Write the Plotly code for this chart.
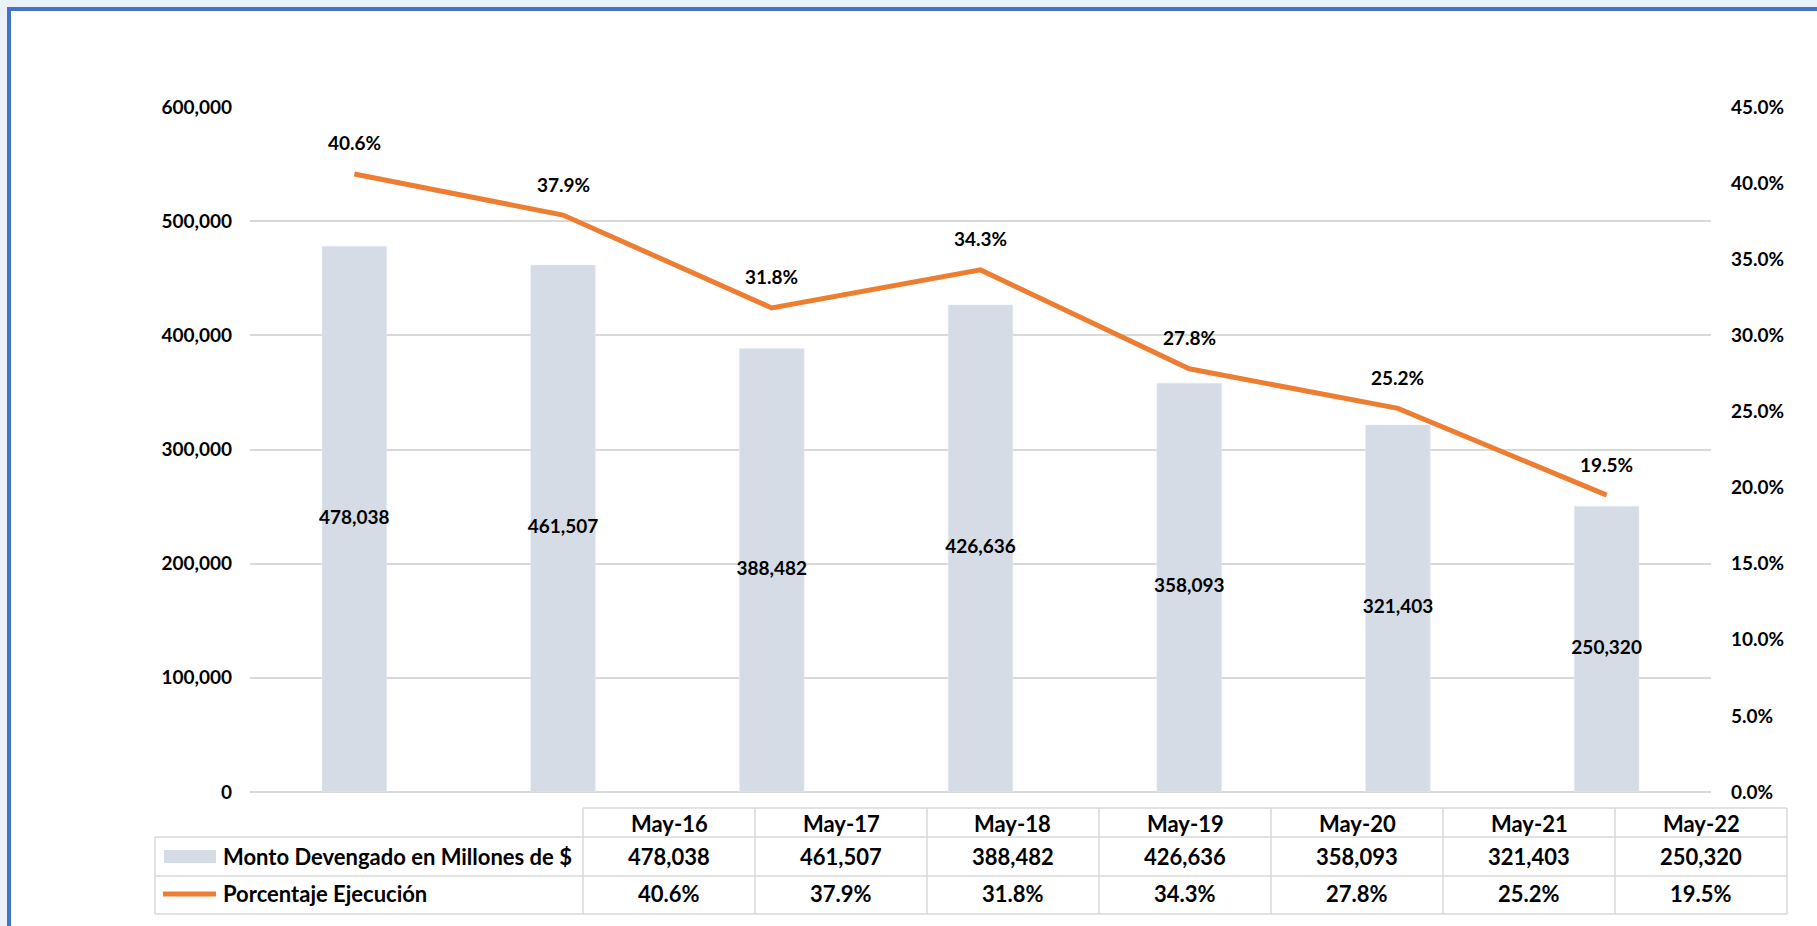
import plotly.graph_objects as go

# ---------------- data ----------------
categories = ["May-16", "May-17", "May-18", "May-19", "May-20", "May-21", "May-22"]
monto = [478038, 461507, 388482, 426636, 358093, 321403, 250320]
porcentaje = [40.6, 37.9, 31.8, 34.3, 27.8, 25.2, 19.5]
serie_monto = "Monto Devengado en Millones de $"
serie_pct = "Porcentaje Ejecución"
left_ticks = [0, 100000, 200000, 300000, 400000, 500000, 600000]
right_ticks = [0, 5, 10, 15, 20, 25, 30, 35, 40, 45]

# ---------------- style ----------------
W, H = 1817, 926
PL, PR, PT, PB = 250, 1711, 107, 792
FONT = "Lato"
BAR_C = "#D6DCE5"
LINE_C = "#ED7D31"
GRID_C = "#D9D9D9"
TXT = "#000000"


def fx(px):
    return (px - PL) / (PR - PL)


def fy(py):
    return (PB - py) / (PB - PT)


fig = go.Figure()

fig.add_trace(go.Bar(
    x=categories, y=monto, name=serie_monto, marker_color=BAR_C,
    width=0.31, showlegend=False, hoverinfo="skip",
))
# bar value labels centred in the bars
fig.add_trace(go.Scatter(
    x=categories, y=[v / 2 for v in monto], mode="text",
    text=[f"{v:,}" for v in monto],
    textfont=dict(family=FONT, size=19, color=TXT, weight="bold"),
    showlegend=False, hoverinfo="skip",
))
fig.add_trace(go.Scatter(
    x=categories, y=porcentaje, name=serie_pct, yaxis="y2", mode="lines",
    line=dict(color=LINE_C, width=5), showlegend=False, hoverinfo="skip",
))

annotations = []
for c, p in zip(categories, porcentaje):
    annotations.append(dict(
        x=c, y=p, xref="x", yref="y2", text=f"{p:.1f}%", showarrow=False,
        yshift=31, font=dict(family=FONT, size=19, color=TXT, weight="bold"),
    ))

shapes = []
# outer frame
shapes.append(dict(
    type="rect", xref="paper", yref="paper",
    x0=fx(9), x1=fx(1840), y0=fy(9), y1=fy(960),
    line=dict(color="#4472C4", width=4), fillcolor="white", layer="below",
))

# ---------------- data table ----------------
T_LEFT, C0, CW = 155, 583, 172
R_TOP, R1, R2, R_BOT = 808, 837, 876, 914
t_right = C0 + CW * len(categories)
tline = dict(color=GRID_C, width=1.5)


def hline(y, x0, x1):
    shapes.append(dict(type="line", xref="paper", yref="paper",
                       x0=fx(x0), x1=fx(x1), y0=fy(y), y1=fy(y), line=tline))


def vline(x, y0, y1):
    shapes.append(dict(type="line", xref="paper", yref="paper",
                       x0=fx(x), x1=fx(x), y0=fy(y0), y1=fy(y1), line=tline))


hline(R_TOP, C0, t_right)
for y in (R1, R2, R_BOT):
    hline(y, T_LEFT, t_right)
vline(T_LEFT, R1, R_BOT)
for i in range(len(categories) + 1):
    vline(C0 + CW * i, R_TOP, R_BOT)

# legend keys
shapes.append(dict(type="rect", xref="paper", yref="paper",
                   x0=fx(164), x1=fx(216), y0=fy(863), y1=fy(850),
                   fillcolor=BAR_C, line=dict(width=0)))
shapes.append(dict(type="line", xref="paper", yref="paper",
                   x0=fx(163), x1=fx(216), y0=fy(894), y1=fy(894),
                   line=dict(color=LINE_C, width=5)))

tfont = dict(family=FONT, size=22, color=TXT, weight="bold")
annotations.append(dict(x=fx(221), y=fy(856), xref="paper", yref="paper",
                        text=serie_monto, showarrow=False, xanchor="left",
                        yanchor="middle", font=tfont))
annotations.append(dict(x=fx(221), y=fy(894), xref="paper", yref="paper",
                        text=serie_pct, showarrow=False, xanchor="left",
                        yanchor="middle", font=tfont))
for i, c in enumerate(categories):
    cx = fx(C0 + CW * i + CW / 2)
    for yy, txt in ((823, c), (856, f"{monto[i]:,}"), (894, f"{porcentaje[i]:.1f}%")):
        annotations.append(dict(x=cx, y=fy(yy), xref="paper", yref="paper",
                                text=txt, showarrow=False, xanchor="center",
                                yanchor="middle", font=tfont))

tick_font = dict(family=FONT, size=19, color=TXT, weight="bold")
fig.update_layout(
    width=W, height=H,
    margin=dict(l=PL, r=W - PR, t=PT, b=H - PB, pad=0),
    paper_bgcolor="#EAF1F9", plot_bgcolor="rgba(0,0,0,0)",
    showlegend=False,
    font=dict(family=FONT, color=TXT),
    xaxis=dict(showticklabels=False, showgrid=False, zeroline=False,
               showline=False, ticks=""),
    yaxis=dict(range=[0, 600000], tickvals=left_ticks,
               ticktext=[f"{v:,}" for v in left_ticks],
               showgrid=True, gridcolor=GRID_C, gridwidth=1.5,
               zeroline=True, zerolinecolor=GRID_C, zerolinewidth=1.5,
               showline=False, ticks="", tickfont=tick_font,
               ticklabelstandoff=17),
    yaxis2=dict(range=[0, 45], overlaying="y", side="right",
                tickvals=right_ticks,
                ticktext=[f"{v:.1f}%" for v in right_ticks],
                showgrid=False, zeroline=False, showline=False, ticks="",
                tickfont=tick_font, ticklabelstandoff=19),
    annotations=annotations,
    shapes=shapes,
)

fig.write_html(
    "out.html",
    config={"displayModeBar": False},
    post_script="document.body.style.margin='0';document.body.style.overflow='hidden';",
)
